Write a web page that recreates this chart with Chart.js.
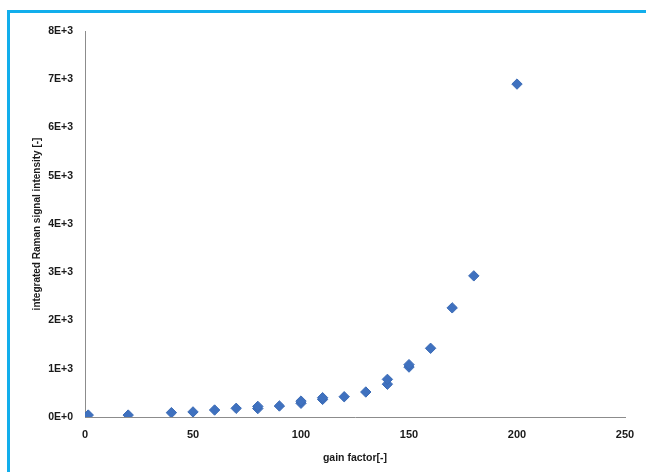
<!DOCTYPE html>
<html>
<head>
<meta charset="utf-8">
<script src="https://cdn.jsdelivr.net/npm/chart.js@4.4.1/dist/chart.umd.min.js"></script>
<style>
  html, body { margin: 0; padding: 0; background: #ffffff; overflow: hidden; }
  #wrap { position: relative; width: 646px; height: 472px; }
  #c { position: absolute; left: 0; top: 0; }
  #frame { position: absolute; left: 7px; top: 10px; width: 700px; height: 520px;
           border-left: 3px solid #12AEEC; border-top: 3px solid #12AEEC; pointer-events: none; }
</style>
</head>
<body>
<div id="wrap">
  <canvas id="c" width="646" height="472"></canvas>
  <div id="frame"></div>
</div>
<script>
// gain factor [-]
const gainFactor = [1.5, 20, 40, 50, 60, 70, 80, 80, 90, 100, 100, 110, 110, 120, 130, 140, 140, 150, 150, 160, 170, 180, 200];
// integrated Raman signal intensity [-]
const ramanIntensity = [40, 40, 90, 105, 145, 180, 175, 220, 228, 285, 330, 365, 400, 420, 518, 680, 780, 1035, 1085, 1424, 2262, 2925, 6900];
const xTickValues = [0, 50, 100, 150, 200, 250];
const yTickLabels = ['0E+0', '1E+3', '2E+3', '3E+3', '4E+3', '5E+3', '6E+3', '7E+3', '8E+3'];
const xTitle = 'gain factor[-]';
const yTitle = 'integrated Raman signal intensity [-]';

const points = gainFactor.map((x, i) => ({ x: x, y: ramanIntensity[i] }));
const FONT = "'Liberation Sans', Arial, sans-serif";

new Chart(document.getElementById('c'), {
  type: 'scatter',
  data: {
    datasets: [{
      data: points,
      pointStyle: 'rectRot',
      pointRadius: 5.2,
      pointHoverRadius: 5.2,
      backgroundColor: '#3F71BF',
      borderColor: '#3A6AB5',
      borderWidth: 1
    }]
  },
  options: {
    responsive: false,
    animation: false,
    devicePixelRatio: 1,
    layout: { padding: { top: 31, right: 21, left: 0, bottom: 0 } },
    plugins: { legend: { display: false }, tooltip: { enabled: false } },
    scales: {
      x: {
        type: 'linear',
        min: 0, max: 250,
        afterBuildTicks: (s) => { s.ticks = xTickValues.map(v => ({ value: v })); },
        afterFit: (s) => { s.height = 55; },
        grid: { display: false, drawTicks: false },
        border: { display: true, color: '#8C8C8C', width: 1 },
        ticks: {
          padding: 11,
          color: '#1a1a1a',
          font: { family: FONT, size: 11, weight: 'bold' },
          maxRotation: 0
        },
        title: {
          display: true,
          text: xTitle,
          color: '#1a1a1a',
          font: { family: FONT, size: 10.5, weight: 'bold' },
          padding: { top: 0, bottom: 8 }
        }
      },
      y: {
        type: 'linear',
        min: 0, max: 8000,
        afterBuildTicks: (s) => { s.ticks = yTickLabels.map((t, i) => ({ value: i * 1000 })); },
        afterFit: (s) => { s.width = 85; },
        grid: { display: false, drawTicks: false },
        border: { display: true, color: '#8C8C8C', width: 1 },
        ticks: {
          padding: 12,
          color: '#1a1a1a',
          font: { family: FONT, size: 10.5, weight: 'bold' },
          callback: (v, i) => yTickLabels[i]
        },
        title: {
          display: true,
          text: yTitle,
          color: '#1a1a1a',
          font: { family: FONT, size: 10, weight: 'bold' },
          padding: { top: 31, bottom: 0 }
        }
      }
    }
  }
});
</script>
</body>
</html>
